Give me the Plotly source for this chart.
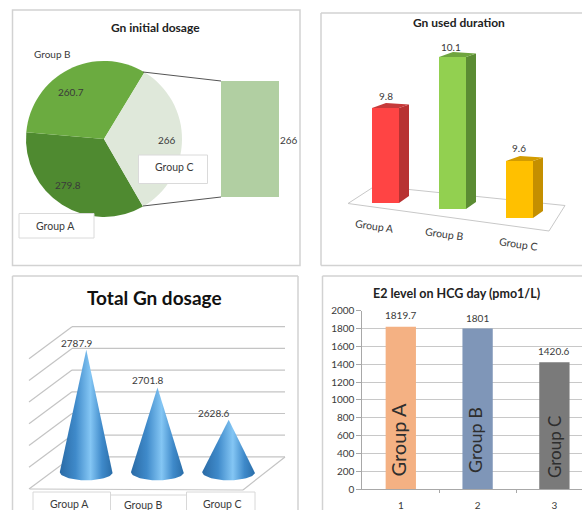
import numpy as np
import plotly.graph_objects as go

W, H = 582, 510
groups = ["Group A", "Group B", "Group C"]
initial_dosage = [279.8, 260.7, 266]
initial_colors = ["#4F8A30", "#6BAB40", "#DFE8DA"]
breakout_value = [266]
duration = [9.8, 10.1, 9.6]
duration_front = ["#FF4444", "#92D050", "#FFC000"]
duration_side = ["#B83232", "#5B8C33", "#C48F00"]
duration_top = ["#C63A3A", "#6FA53F", "#D39C00"]
total_dosage = [2787.9, 2701.8, 2628.6]
e2_level = [1819.7, 1801, 1420.6]
e2_colors = ["#F4B183", "#7F96B8", "#7A7A7A"]
e2_ticks = [0, 200, 400, 600, 800, 1000, 1200, 1400, 1600, 1800, 2000]
e2_cats = [1, 2, 3]

FONT = "Lato"
TXT = "#3A3A3A"
FRAME = "#D2D2D2"
GRID = "#C8C8C8"


def X(p):
    return p / W


def Y(p):
    return 1 - p / H


shapes, notes = [], []


def line(x0, y0, x1, y1, color=FRAME, width=1.5, layer="below"):
    shapes.append(dict(type="line", xref="paper", yref="paper", x0=X(x0), y0=Y(y0),
                       x1=X(x1), y1=Y(y1), line=dict(color=color, width=width), layer=layer))


def box(x0, y0, x1, y1, color=FRAME, width=1.5, fill="rgba(0,0,0,0)", layer="below"):
    shapes.append(dict(type="rect", xref="paper", yref="paper", x0=X(x0), y0=Y(y0),
                       x1=X(x1), y1=Y(y1), line=dict(color=color, width=width),
                       fillcolor=fill, layer=layer))


def note(px, py, text, size=10, color=TXT, angle=0):
    notes.append(dict(xref="paper", yref="paper", x=X(px), y=Y(py), text=text, showarrow=False,
                      xanchor="center", yanchor="middle", textangle=angle,
                      font=dict(family=FONT, size=size, color=color)))


fig = go.Figure()

# ---------- frames
box(12.5, 10, 300, 265.5)
line(321, 13, 582, 13); line(321, 13, 321, 265.5); line(321, 265.5, 582, 265.5)
line(12.5, 276, 298, 276); line(12.5, 276, 12.5, 510); line(298, 276, 298, 510)
line(322.5, 276, 582, 276); line(322.5, 276, 322.5, 510)

# ---------- panel 1: pie with breakout bar
cx, cy, r = 104, 139, 78
fig.add_trace(go.Pie(labels=groups, values=initial_dosage, sort=False, direction="clockwise",
                     rotation=150, textinfo="none", hoverinfo="label+value",
                     marker=dict(colors=initial_colors, line=dict(width=0)),
                     domain=dict(x=[X(cx - r), X(cx + r)], y=[Y(cy + r), Y(cy - r)])))
fig.add_trace(go.Bar(x=[0], y=breakout_value, width=1, marker=dict(color="#B1CFA2", line_width=0),
                     xaxis="x", yaxis="y", hoverinfo="y"))
line(143, 72, 221, 81, color="#555555", width=1, layer="above")
line(143, 206, 221, 197, color="#555555", width=1, layer="above")
box(138.5, 155, 207.5, 183.5, color="#DADADA", width=1, fill="white", layer="above")
box(19, 213.5, 94, 238, color="#DADADA", width=1, fill="white", layer="above")
note(155, 27.5, "<b>Gn initial dosage</b>", 12, "#222222")
note(52, 54, groups[1], 10)
note(70.5, 92, str(initial_dosage[1]), 10)
note(67.5, 185, str(initial_dosage[0]), 10)
note(166.5, 140, str(initial_dosage[2]), 10)
note(288.5, 140, str(breakout_value[0]), 10)
note(174, 167, groups[2], 10.5)
note(55.5, 225.5, groups[0], 10.5)

# ---------- panel 2: pseudo 3D bars
PX2, X0_2 = 67.0, 385.5       # px per category, px of first category
K2, V0, B0 = 190.0, 9.3, 200.0  # px per value unit, floor value, its px row
floor_px = [203, 209, 218]
shift = [(b - B0) / K2 for b in floor_px]
fw = 27 / PX2
heights = [v - V0 for v in duration]
bases = [V0 - s for s in shift]
line(348, 203.5, 375, 186, color="#C8C8C8", width=1)
line(348, 203.5, 549, 231, color="#C8C8C8", width=1)
line(549, 231, 565, 205.5, color="#C8C8C8", width=1)
line(375, 186, 565, 205.5, color="#C8C8C8", width=1)
fig.add_trace(go.Bar(x=[0, 1, 2], y=heights, base=bases, width=fw,
                     marker=dict(color=duration_front, line_width=0),
                     xaxis="x2", yaxis="y2", hoverinfo="skip"))
dx_s, dy_st, dy_sb = 10 / PX2, 3.5 / K2, 7 / K2
dx_t = 14 / PX2
dy_t = 5 / K2
for i in range(3):
    l, rr = i - fw / 2, i + fw / 2
    top, bot = bases[i] + heights[i], bases[i]
    fig.add_trace(go.Scatter(x=[rr, rr + dx_s, rr + dx_s, rr, rr],
                             y=[top, top + dy_st, bot + dy_sb, bot, top],
                             fill="toself", fillcolor=duration_side[i], mode="lines",
                             line=dict(width=0), xaxis="x2", yaxis="y2", hoverinfo="skip"))
    fig.add_trace(go.Scatter(x=[l, l + dx_t, rr + dx_s, rr, l],
                             y=[top, top + dy_t, top + dy_st, top, top],
                             fill="toself", fillcolor=duration_top[i], mode="lines",
                             line=dict(width=0), xaxis="x2", yaxis="y2", hoverinfo="skip"))
note(459, 22.5, "<b>Gn used duration</b>", 12, "#222222")
for (px, py), v in zip([(386, 96), (451, 47), (519, 148)], duration):
    note(px, py, str(v), 10)
for (px, py), g in zip([(374, 226), (445, 234), (518, 244)], groups):
    note(px, py, g, 10.5, angle=8)

# ---------- panel 3: cones
for k in range(7):
    gy = 326.7 + 21.7 * k
    line(72, gy, 285, gy, color="#C4C4C4", width=1.2)
    line(72, gy, 29, gy + 32, color="#C4C4C4", width=1.2)
line(30, 489, 243, 490, color="#C4C4C4", width=1.2)
line(243, 490, 285, 457, color="#C4C4C4", width=1.2)
PX3, X0_3 = 71.2, 86.3
K3, V3, B3 = 0.44, 2510.0, 472.0
semi_x, semi_y = 0.372, 8.3 / K3
theta = np.linspace(0, np.pi, 49)
cone_scale = [[0, "#2A6AA5"], [0.3, "#3F8ACA"], [0.58, "#84C6F4"], [0.8, "#3F8ACA"], [1, "#2A6DA8"]]
for i, v in enumerate(total_dosage):
    xs = np.concatenate([[i], i + semi_x * np.cos(theta), [i]])
    ys = np.concatenate([[v], V3 - semi_y * np.sin(theta), [v]])
    fig.add_trace(go.Scatter(x=xs, y=ys, fill="toself", mode="lines", line=dict(width=0),
                             fillgradient=dict(type="horizontal", colorscale=cone_scale),
                             xaxis="x3", yaxis="y3", hoverinfo="skip"))
box(33, 492, 110.5, 512, color="#D8D8D8", width=1, fill="white", layer="above")
box(110.5, 495, 186.5, 512, color="#D8D8D8", width=1, fill="white", layer="above")
box(186.5, 492, 255, 512, color="#D8D8D8", width=1, fill="white", layer="above")
note(154, 297, "<b>Total Gn dosage</b>", 19, "#111111")
for (px, py), v in zip([(76.5, 342.5), (148, 380), (214, 413)], total_dosage):
    note(px, py, str(v), 10)
for (px, py), g in zip([(69.5, 503.5), (143, 504.5), (222.5, 503.5)], groups):
    note(px, py, g, 10.5)

# ---------- panel 4: E2 bars
PX4, X4 = 76.8, 400.8
fig.add_trace(go.Bar(x=e2_cats, y=e2_level, width=30.3 / PX4,
                     marker=dict(color=e2_colors, line_width=0),
                     xaxis="x4", yaxis="y4", hoverinfo="y"))
note(456.5, 293.5, "<b>E2 level on HCG day (pmo1/L)</b>", 12.5, "#222222")
for (px, py), v in zip([(400.7, 315), (477.3, 317.5), (554.3, 351)], e2_level):
    note(px, py, str(v), 10)
for (px, py), g, s in zip([(397.5, 440), (475, 440), (554, 447)], groups, [20, 18, 17]):
    note(px, py, g, s, "#2E2E2E", angle=-90)


def hidden(**kw):
    return dict(visible=False, fixedrange=True, **kw)


def x_range(left, right, x0, scale):
    return [(left - x0) / scale, (right - x0) / scale]


fig.update_layout(
    width=W, height=H, margin=dict(l=0, r=0, t=0, b=0, autoexpand=False), autosize=False,
    paper_bgcolor="white", plot_bgcolor="rgba(0,0,0,0)", showlegend=False,
    barmode="overlay", shapes=shapes, annotations=notes,
    font=dict(family=FONT, color=TXT),
    xaxis=hidden(domain=[X(221), X(279)], range=[-0.5, 0.5], anchor="y"),
    yaxis=hidden(domain=[Y(197), Y(81)], range=[0, breakout_value[0]], anchor="x"),
    xaxis2=hidden(domain=[X(321), X(582)], range=x_range(321, 582, X0_2, PX2), anchor="y2"),
    yaxis2=hidden(domain=[Y(265), Y(13)],
                  range=[V0 - (265 - B0) / K2, V0 + (B0 - 13) / K2], anchor="x2"),
    xaxis3=hidden(domain=[X(12), X(298)], range=x_range(12, 298, X0_3, PX3), anchor="y3"),
    yaxis3=hidden(domain=[Y(510), Y(276)],
                  range=[V3 - (510 - B3) / K3, V3 + (B3 - 276) / K3], anchor="x3"),
    xaxis4=dict(domain=[X(362.4), 1], range=[0.5, 0.5 + (582 - 362.4) / PX4], anchor="y4",
                tickvals=e2_cats, ticks="outside", ticklen=7, tickcolor="rgba(0,0,0,0)",
                showgrid=False, showline=True, linecolor="#A8A8A8", linewidth=1,
                tickfont=dict(family=FONT, size=10, color=TXT), fixedrange=True,
                minor=dict(tickvals=[1.5, 2.5], ticks="outside", ticklen=3, tickcolor="#A8A8A8")),
    yaxis4=dict(domain=[Y(489), Y(310.7)], range=[0, 2000], anchor="x4", tickvals=e2_ticks,
                ticks="outside", ticklen=5, tickcolor="#A8A8A8", showline=True,
                linecolor="#A8A8A8", linewidth=1, showgrid=True, gridcolor=GRID, gridwidth=1.3,
                zeroline=False, tickfont=dict(family=FONT, size=10, color=TXT), fixedrange=True),
)
fig.write_html("out.html", config=dict(displayModeBar=False),
               post_script="document.body.style.margin='0';document.body.style.overflow='hidden';")
